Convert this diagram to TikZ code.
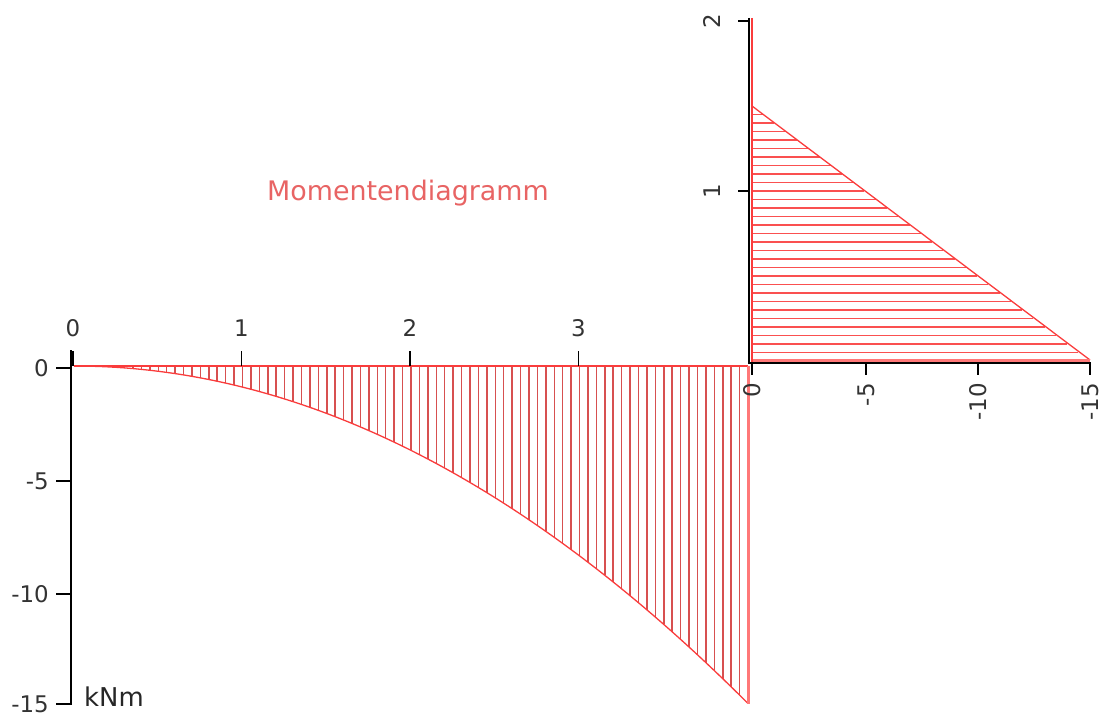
\documentclass[tikz,border=0pt]{standalone}
\usepackage{fontspec}
\setmainfont{DejaVu Sans}
\definecolor{redline}{RGB}{250,60,60}
\definecolor{hatch}{RGB}{215,80,80}
\definecolor{lightred}{RGB}{255,120,120}
\definecolor{titlered}{RGB}{232,100,100}
\tikzset{
  axis/.style={black, line width=1.2bp},
  tick/.style={black, line width=1.1bp},
  ticklabel/.style={font=\fontsize{23}{23}\selectfont, text=black!80, inner sep=1bp},
  hatchline/.style={hatch, line width=1.5bp},
  curveline/.style={redline, line width=1.3bp},
  thickred/.style={lightred, line width=3bp},
}
\begin{document}
\begin{tikzpicture}[x=1bp,y=-1bp]
\useasboundingbox (0,0) rectangle (1105,718);
% ---------- left diagram (beam) ----------
\foreach \k in {1,...,79}{
  \pgfmathsetmacro{\xx}{0.05*\k}
  \pgfmathsetmacro{\px}{74+168.5*\xx}
  \pgfmathsetmacro{\py}{366+22.5*0.9375*\xx*\xx}
  \draw[hatchline] (\px,366) -- (\px,\py);
}
\draw[curveline, domain=0:4, samples=80, variable=\t] plot ({74+168.5*\t},{366+22.5*0.9375*\t*\t});
\draw[redline, line width=2bp] (74,366) -- (748,366);
\draw[thickred] (748,366) -- (748,704);
% axes
\coordinate (yA0) at (71,350);
\coordinate (yA1) at (71,705);
\draw[axis] (yA0) -- (yA1);
\foreach \v/\py in {0/368,-5/481,-10/594,-15/704}{
  \draw[tick] (56,\py) -- (71,\py);
  \node[ticklabel, anchor=east] (yl\v) at (50,\py) {\v};
}
\foreach \v in {0,1,2,3}{
  \pgfmathsetmacro{\px}{73+168.5*\v}
  \draw[tick] (\px,366) -- (\px,351);
  \node[ticklabel, anchor=south] (xl\v) at (\px,338) {\v};
}
\node[anchor=west, font=\fontsize{26}{26}\selectfont, text=black!85, inner sep=0] (unit) at (84,697) {kNm};
\node[font=\fontsize{27}{27}\selectfont, text=titlered] (title) at (408,193) {Momentendiagramm};
% ---------- right diagram (column) ----------
\foreach \k in {1,...,29}{
  \pgfmathsetmacro{\hh}{0.05*\k}
  \pgfmathsetmacro{\py}{361-170*\hh}
  \pgfmathsetmacro{\px}{752+22.5*15*(1-\hh/1.5)}
  \draw[hatchline, redline!90] (752,\py) -- (\px,\py);
}
\draw[curveline] (752,106) -- (1090,360);
\draw[thickred] (752,360) -- (1090,360);
\draw[redline, line width=1.5bp] (752,18) -- (752,362);
\draw[axis] (749,18) -- (749,363) -- (1091,363);
\foreach \v/\py in {1/191,2/21}{
  \draw[tick] (738,\py) -- (749,\py);
  \node[ticklabel, rotate=90, anchor=south] (hl\v) at (722,\py) {\v};
}
\foreach \v/\px in {0/752,-5/866,-10/978,-15/1090}{
  \draw[tick] (\px,363) -- (\px,375);
  \node[ticklabel, rotate=90, anchor=east] (ml\v) at (\px,382) {\v};
}
\end{tikzpicture}
\end{document}
